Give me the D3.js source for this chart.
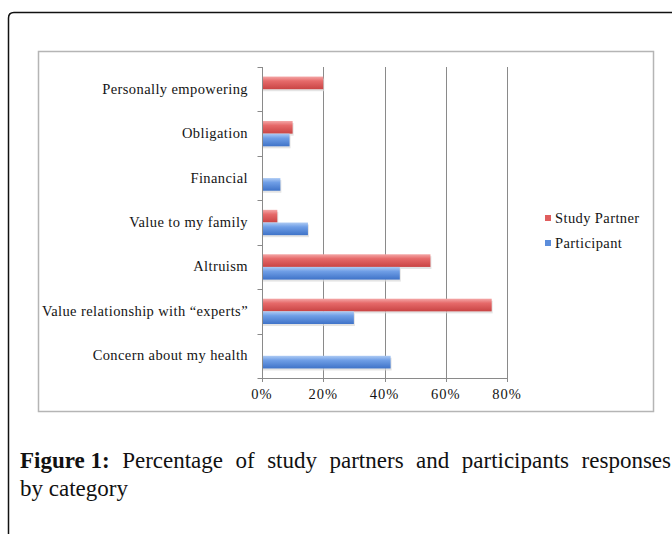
<!DOCTYPE html>
<html>
<head>
<meta charset="utf-8">
<script src="https://cdn.jsdelivr.net/npm/d3@7"></script>
<style>
  body { margin: 0; background: #fff; }
  svg { display: block; }
  .lbl { font-family: "Liberation Serif", "DejaVu Serif", serif; font-size: 14.5px; letter-spacing: 0.4px; fill: #141414; }
  .cap { font-family: "Liberation Serif", "DejaVu Serif", serif; font-size: 23px; fill: #111; }
</style>
</head>
<body>
<div id="chart"></div>
<script>
// data (percent)
var categories = ["Personally empowering", "Obligation", "Financial", "Value to my family",
                  "Altruism", "Value relationship with \u201cexperts\u201d", "Concern about my health"];
var seriesNames = ["Study Partner", "Participant"];
var studyPartner = [20, 10, 0, 5, 55, 75, 0];
var participant = [0, 9, 6, 15, 45, 30, 42];
var xTicks = [0, 20, 40, 60, 80];

var W = 672, H = 534;
var svg = d3.select("#chart").append("svg")
    .attr("width", W)
    .attr("height", H);

// gradients for the excel-ish bars
var defs = svg.append("defs");
function grad(id, stops) {
    var g = defs.append("linearGradient").attr("id", id)
        .attr("x1", 0).attr("y1", 0).attr("x2", 0).attr("y2", 1);
    stops.forEach(function(s) {
        g.append("stop").attr("offset", s[0]).attr("stop-color", s[1]);
    });
}
grad("gRed", [["0%", "#f4a7a7"], ["35%", "#e66a6a"], ["100%", "#c94444"]]);
grad("gBlue", [["0%", "#aecbf4"], ["35%", "#6f9ee6"], ["100%", "#3f73c8"]]);
var fills = ["url(#gRed)", "url(#gBlue)"];
var legendFills = ["#e05e5e", "#5b8ddb"];

// outer frame with rounded corner
svg.append("path")
    .attr("d", "M8.5,534 L8.5,18 Q8.5,12.5 14,12.5 L672,12.5")
    .attr("fill", "none")
    .attr("stroke", "#111")
    .attr("stroke-width", 1.5);

// chart box
svg.append("rect")
    .attr("x", 38.5).attr("y", 51.5)
    .attr("width", 615).attr("height", 360)
    .attr("fill", "#fff")
    .attr("stroke", "#b5b5b5")
    .attr("stroke-width", 1.5);

var pLeft = 262, pRight = 507, pTop = 67, pBottom = 378;

var x = d3.scaleLinear().domain([0, 80]).range([pLeft, pRight]);
var y0 = d3.scaleBand().domain(categories).range([pTop, pBottom])
    .paddingInner(0.43).paddingOuter(0.215);
var y1 = d3.scaleBand().domain(seriesNames).range([0, y0.bandwidth()]);

// gridlines
svg.append("g")
    .selectAll("line")
    .data(xTicks.slice(1))
    .enter().append("line")
    .attr("x1", function(d) { return Math.round(x(d)) + 0.5; })
    .attr("x2", function(d) { return Math.round(x(d)) + 0.5; })
    .attr("y1", pTop)
    .attr("y2", pBottom + 4)
    .attr("stroke", "#8a8a8a")
    .attr("stroke-width", 1);

// bars
var groups = svg.append("g")
    .selectAll("g")
    .data(categories)
    .enter().append("g")
    .attr("transform", function(d) { return "translate(0," + y0(d) + ")"; });

groups.selectAll("rect.shadow")
    .data(function(d, i) { return [studyPartner[i], participant[i]]; })
    .enter().append("rect")
    .attr("class", "shadow")
    .attr("x", x(0) + 1)
    .attr("y", function(d, j) { return y1(seriesNames[j]) + 2; })
    .attr("width", function(d) { return Math.max(0, x(d) - x(0)); })
    .attr("height", y1.bandwidth())
    .attr("fill", function(d) { return d > 0 ? "#d8d8d8" : "none"; })
    .attr("opacity", 0.7);

groups.selectAll("rect.bar")
    .data(function(d, i) { return [studyPartner[i], participant[i]]; })
    .enter().append("rect")
    .attr("class", "bar")
    .attr("x", x(0))
    .attr("y", function(d, j) { return y1(seriesNames[j]); })
    .attr("width", function(d) { return x(d) - x(0); })
    .attr("height", y1.bandwidth())
    .attr("fill", function(d, j) { return fills[j]; });

// category axis
var yAxis = svg.append("g")
    .attr("transform", "translate(" + (pLeft + 0.5) + ",0)");
yAxis.append("line")
    .attr("y1", pTop).attr("y2", pBottom)
    .attr("stroke", "#8a8a8a");
var bounds = d3.range(categories.length + 1).map(function(i) { return pTop + i * y0.step(); });
yAxis.selectAll("line.tick")
    .data(bounds)
    .enter().append("line")
    .attr("class", "tick")
    .attr("x1", -5).attr("x2", 0)
    .attr("y1", function(d) { return Math.round(d) + 0.5; })
    .attr("y2", function(d) { return Math.round(d) + 0.5; })
    .attr("stroke", "#8a8a8a");

svg.append("g")
    .selectAll("text")
    .data(categories)
    .enter().append("text")
    .attr("class", "lbl")
    .attr("x", 248)
    .attr("y", function(d) { return y0(d) + y0.bandwidth() / 2 + 4.5; })
    .attr("text-anchor", "end")
    .text(function(d) { return d; });

// value axis
svg.append("line")
    .attr("x1", pLeft).attr("x2", pRight + 1)
    .attr("y1", pBottom + 0.5).attr("y2", pBottom + 0.5)
    .attr("stroke", "#8a8a8a");
svg.append("line")
    .attr("x1", pLeft + 0.5).attr("x2", pLeft + 0.5)
    .attr("y1", pBottom).attr("y2", pBottom + 4)
    .attr("stroke", "#8a8a8a");

svg.append("g")
    .selectAll("text")
    .data(xTicks)
    .enter().append("text")
    .attr("class", "lbl")
    .attr("x", function(d) { return x(d); })
    .attr("y", 399)
    .attr("text-anchor", "middle")
    .style("letter-spacing", "1px")
    .text(function(d) { return d + "%"; });

// legend
var legend = svg.append("g")
    .selectAll("g")
    .data(seriesNames)
    .enter().append("g")
    .attr("transform", function(d, i) { return "translate(545," + (223 + i * 25) + ")"; });
legend.append("rect")
    .attr("x", 0).attr("y", -8)
    .attr("width", 6).attr("height", 6)
    .attr("fill", function(d, i) { return legendFills[i]; });
legend.append("text")
    .attr("class", "lbl")
    .attr("x", 10)
    .attr("y", 0)
    .text(function(d) { return d; });

// caption, first line justified
var line1 = ["Figure 1:", "Percentage", "of", "study", "partners", "and", "participants", "responses"];
var capX = 20, capRight = 671, capY1 = 468, capY2 = 496;
var words = svg.append("g").selectAll("text")
    .data(line1)
    .enter().append("text")
    .attr("class", "cap")
    .attr("y", capY1)
    .style("font-weight", function(d, i) { return i === 0 ? "bold" : null; })
    .text(function(d) { return d; });
var widths = [];
words.each(function() { widths.push(this.getComputedTextLength()); });
var gap = (capRight - capX - d3.sum(widths)) / (line1.length - 1);
var cx = capX;
words.attr("x", function(d, i) { var p = cx; cx += widths[i] + gap; return p; });

svg.append("text")
    .attr("class", "cap")
    .attr("x", capX)
    .attr("y", capY2)
    .text("by category");
</script>
</body>
</html>
